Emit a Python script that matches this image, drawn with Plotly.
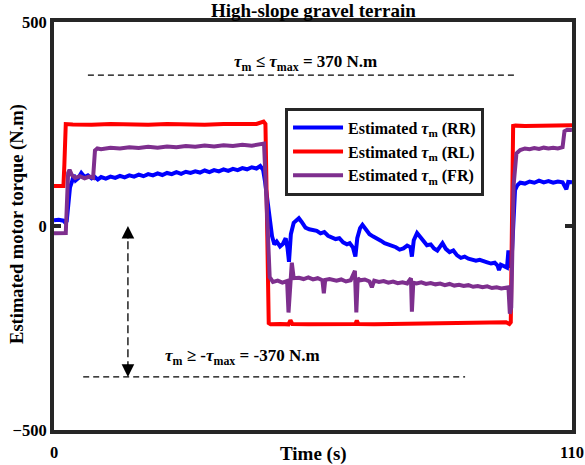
import plotly.graph_objects as go

# Estimated motor torque on high-slope gravel terrain: (time s, torque N.m)
RR_POINTS = [
    (0, 14), (1, 15), (2, 13), (2.4, 8), (2.7, 12), (3.0, 40), (3.4, 95), (3.8, 108),
    (4.2, 125), (4.6, 112), (5.2, 118), (5.8, 130), (6.5, 120), (7.2, 124), (8, 117),
    (8.6, 121), (9.3, 114), (10, 120), (11, 116), (12, 121), (13, 118), (14, 123),
    (15, 119), (16, 124), (17, 121), (18, 126), (19, 122), (20, 127), (21, 124),
    (22, 129), (23, 125), (24, 130), (25, 127), (26, 132), (27, 128), (28, 133),
    (29, 130), (30, 134), (31, 131), (32, 136), (33, 132), (34, 137), (35, 134),
    (36, 139), (37, 135), (38, 140), (39, 137), (40, 142), (41, 139), (42, 144),
    (43, 141), (43.8, 147), (44.4, 138), (44.8, 110), (45.3, 70), (45.8, 20),
    (46.3, -25), (46.8, -45), (47.3, -38), (48, -50), (48.6, -44), (49.2, -30),
    (49.6, -55), (49.9, -88), (50.3, -20), (50.9, 8), (51.5, 15), (52, 19), (52.6, 10),
    (53.4, -4), (54.2, -8), (55, -10), (55.8, -12), (56.6, -18), (57.4, -15),
    (58.2, -24), (59, -27), (59.8, -32), (60.6, -30), (61.4, -40), (62.2, -45),
    (62.8, -42), (63.5, -53), (64.0, -75), (64.4, -30), (65, -5), (65.5, 3),
    (66.2, -8), (67, -20), (67.8, -26), (68.6, -30), (69.4, -36), (70.2, -42),
    (71, -45), (71.8, -49), (72.6, -52), (73.4, -58), (74.2, -55), (75, -48),
    (75.7, -52), (76.0, -75), (76.4, -35), (77.1, -17), (77.8, -28), (78.5, -40),
    (79.2, -47), (80, -45), (80.7, -55), (81.4, -60), (82.0, -48), (82.5, -42),
    (83.2, -56), (84, -64), (84.8, -60), (85.6, -72), (86.4, -78), (87.2, -75),
    (88, -80), (88.8, -82), (89.6, -85), (90.4, -83), (91.2, -87), (92, -89),
    (92.8, -92), (93.6, -90), (94.2, -97), (94.5, -108), (94.9, -95), (95.6, -98),
    (96.2, -102), (96.5, -60), (96.8, -95), (97.1, -100), (97.5, 20), (97.9, 88),
    (98.4, 100), (99, 106), (100, 104), (101, 109), (102, 106), (103, 111),
    (104, 107), (105, 110), (106, 106), (107, 109), (108, 107), (108.8, 90),
    (109.2, 108), (110, 107),
]

RL_POINTS = [
    (0, 98), (1.0, 97), (2.0, 98), (2.2, 150), (2.5, 250), (4, 249), (8, 248),
    (12, 250), (16, 249), (20, 248), (24, 250), (28, 249), (32, 248), (36, 250),
    (40, 249), (43, 250), (44.5, 256), (44.9, 250), (45.6, -238), (46, -241),
    (48, -240), (49.8, -241), (50.2, -231), (50.6, -240), (54, -241), (58, -240),
    (62, -241), (64.0, -240), (64.3, -232), (64.6, -240), (68, -241), (72, -240),
    (76, -240), (80, -239), (84, -238), (88, -238), (92, -237), (96, -236),
    (96.7, -240), (97.0, -236), (97.5, 245), (98, 246), (100, 245), (104, 246),
    (108, 247), (110, 247),
]

FR_POINTS = [
    (0, -18), (1, -18), (2, -18), (2.5, -17), (3.0, 130), (3.3, 138), (3.8, 125),
    (4.5, 118), (5.5, 122), (6.5, 117), (7.5, 121), (8.3, 118), (8.7, 185),
    (9.2, 190), (10, 188), (12, 192), (14, 190), (16, 193), (18, 191), (20, 194),
    (22, 192), (24, 195), (26, 193), (28, 196), (30, 194), (32, 197), (34, 195),
    (36, 198), (38, 196), (40, 199), (42, 197), (43.5, 200), (44.6, 202), (45.2, 40),
    (45.8, -125), (46.5, -137), (47.5, -134), (48.5, -139), (49.5, -135),
    (49.8, -212), (50.1, -140), (50.5, -90), (50.9, -128), (52, -127), (53, -130),
    (54, -126), (55, -131), (56, -128), (57.0, -133), (57.3, -165), (57.6, -132),
    (58.5, -130), (60, -134), (61, -131), (62, -136), (63, -133), (63.9, -110),
    (64.2, -212), (64.5, -128), (65, -133), (66, -131), (67, -136), (67.5, -150),
    (68, -134), (69, -137), (70, -135), (71, -139), (72, -136), (73, -140),
    (74, -138), (75, -141), (75.8, -128), (76.0, -210), (76.3, -139), (77, -141),
    (78, -138), (79, -142), (80, -140), (81, -143), (82, -141), (83, -145),
    (84, -142), (85, -146), (86, -144), (87, -147), (88, -145), (89, -149),
    (90, -147), (91, -150), (92, -148), (93, -152), (94, -150), (95, -153),
    (96, -151), (96.5, -150), (96.8, -215), (97.1, -200), (97.6, 100), (98.2, 178),
    (99, 186), (100, 190), (101, 188), (102, 191), (103, 189), (104, 192),
    (105, 190), (106, 192), (107, 190), (108.0, 193), (108.4, 232), (109, 236),
    (110, 235),
]

TAU_MAX = 370
UPPER_LIMIT_SPAN = [7.2, 98.3]
LOWER_LIMIT_SPAN = [6.2, 87.3]
ARROW_TIME = 15.7
X_TICKS = [0, 110]
Y_TICKS = [-500, 0, 500]

SERIF = "Liberation Serif"
AXIS_COLOR = "#262626"

series = [
    ("RR", RR_POINTS, "#0000FF"),
    ("RL", RL_POINTS, "#FF0000"),
    ("FR", FR_POINTS, "#7E2F8E"),
]

fig = go.Figure()

for wheel, points, color in series:
    t, tau = zip(*points)
    fig.add_trace(go.Scatter(
        x=list(t), y=list(tau), mode="lines",
        name=f"Estimated <i>τ</i><sub>m</sub> ({wheel})",
        line=dict(color=color, width=4),
    ))

# torque limit lines
for span, level in ((UPPER_LIMIT_SPAN, TAU_MAX), (LOWER_LIMIT_SPAN, -TAU_MAX)):
    fig.add_trace(go.Scatter(
        x=span, y=[level, level], mode="lines", showlegend=False,
        line=dict(color="black", width=1.3, dash="6px,4px"), hoverinfo="skip",
    ))

# dashed double arrow between zero and the lower limit
fig.add_trace(go.Scatter(
    x=[ARROW_TIME, ARROW_TIME], y=[-8, -TAU_MAX + 8], mode="lines", showlegend=False,
    line=dict(color="black", width=1.3, dash="8px,4px"), hoverinfo="skip",
))
for tip, offset in ((0, 14), (-TAU_MAX, -14)):
    fig.add_annotation(
        x=ARROW_TIME, y=tip, xref="x", yref="y", ax=0, ay=offset,
        showarrow=True, arrowhead=2, arrowsize=1.8, arrowwidth=1.4,
        arrowcolor="black", text="",
    )


def bold_font(size):
    return dict(family=SERIF, size=size, color="black", weight="bold")


tau = "<i>τ</i>"

fig.add_annotation(
    x=53.5, y=400, xref="x", yref="y", showarrow=False, font=bold_font(17),
    text=f"{tau}<sub>m</sub> ≤ {tau}<sub>max</sub> = {TAU_MAX} N.m",
)
fig.add_annotation(
    x=40.0, y=-320, xref="x", yref="y", showarrow=False, font=bold_font(17),
    text=f"{tau}<sub>m</sub> ≥ -{tau}<sub>max</sub> = -{TAU_MAX} N.m",
)

# titles
fig.add_annotation(
    x=0.5, y=1.029, xref="paper", yref="paper", showarrow=False,
    yanchor="middle", font=bold_font(19), text="High-slope gravel terrain",
)
fig.add_annotation(
    x=0.5, y=-0.059, xref="paper", yref="paper", showarrow=False,
    yanchor="middle", font=bold_font(19), text="Time (s)",
)
fig.add_annotation(
    x=-0.0695, y=0.505, xref="paper", yref="paper", showarrow=False,
    xanchor="center", yanchor="middle", textangle=-90, font=bold_font(18.5),
    text="Estimated motor torque (N.m)",
)

axis_common = dict(
    showline=True, linecolor=AXIS_COLOR, linewidth=4, mirror="allticks",
    ticks="inside", ticklen=7, tickwidth=3.5, tickcolor=AXIS_COLOR,
    showgrid=False, zeroline=False, tickfont=bold_font(16.5), automargin=False,
)

fig.update_xaxes(range=[0, 110], tickvals=X_TICKS, ticklabelstandoff=4, **axis_common)
fig.update_yaxes(range=[-500, 500], tickvals=Y_TICKS, **axis_common)

fig.update_layout(
    width=585, height=465,
    margin=dict(l=54, r=13, t=22, b=35),
    paper_bgcolor="white", plot_bgcolor="white",
    font=bold_font(16),
    showlegend=True,
    legend=dict(
        x=0.446, y=0.79, xanchor="left", yanchor="top",
        bgcolor="white", bordercolor=AXIS_COLOR, borderwidth=3,
        font=bold_font(16), itemwidth=50, tracegroupgap=0,
    ),
)

fig.write_html("out.html")
